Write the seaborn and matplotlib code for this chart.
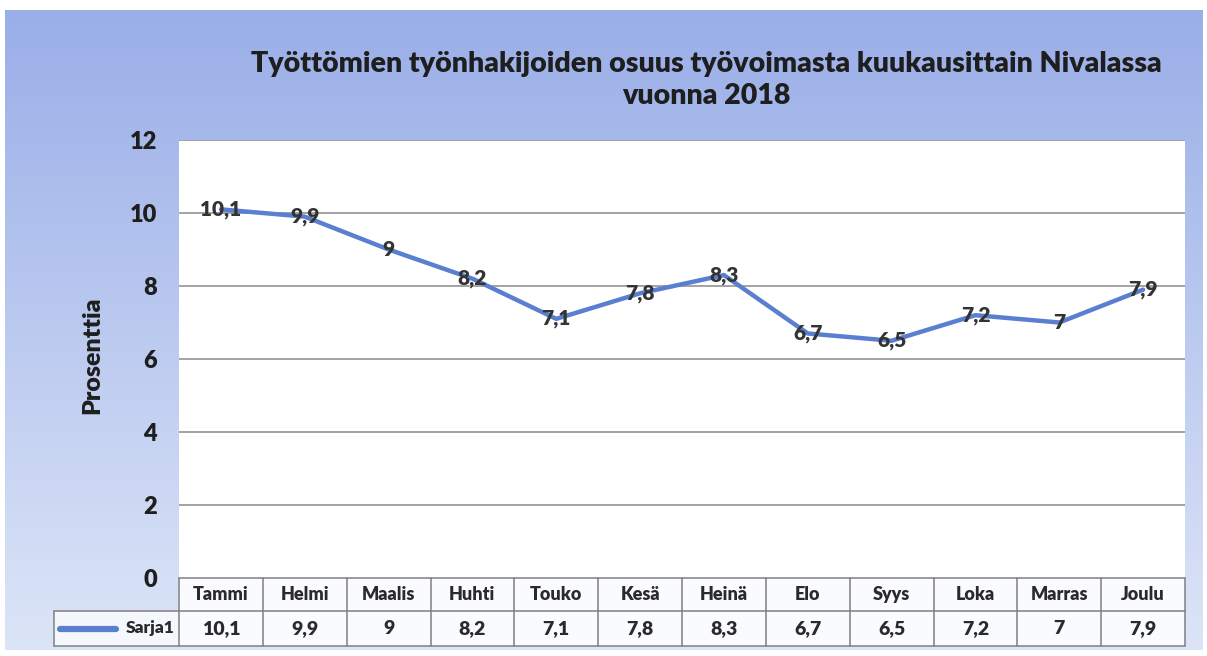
import numpy as np
import pandas as pd
import matplotlib
matplotlib.use("Agg")
import matplotlib.pyplot as plt
import seaborn as sns

months = ['Tammi', 'Helmi', 'Maalis', 'Huhti', 'Touko', 'Kesä',
          'Heinä', 'Elo', 'Syys', 'Loka', 'Marras', 'Joulu']
osuus = [10.1, 9.9, 9.0, 8.2, 7.1, 7.8, 8.3, 6.7, 6.5, 7.2, 7.0, 7.9]
series_name = 'Sarja1'
yticks = [0, 2, 4, 6, 8, 10, 12]

title = 'Työttömien työnhakijoiden osuus työvoimasta kuukausittain Nivalassa\nvuonna 2018'
ylabel = 'Prosenttia'


def fi(v):
    return f"{v:g}".replace('.', ',')


sns.set_theme(style="white")
plt.rcParams['font.family'] = ['Lato', 'DejaVu Sans']

FW = 'heavy'
line_col = '#5b7fd0'
text_col = '#1e1e1e'
grid_col = '#8a8a8a'

df = pd.DataFrame({'kk': months, 'osuus': osuus})

fig = plt.figure(figsize=(12.07, 6.56), dpi=100)
W, H = 1207, 656

# blue gradient frame behind the chart
bg = fig.add_axes([5 / W, 6 / H, 1198 / W, 640 / H], zorder=-5)
top = np.array([0x9a, 0xae, 0xe8]) / 255
bot = np.array([0xdc, 0xe5, 0xf7]) / 255
t = np.linspace(0, 1, 200)[:, None, None]
grad = top * (1 - t) + bot * t
grad = np.repeat(grad, 2, axis=1)
bg.imshow(grad, aspect='auto', extent=[0, 1, 0, 1])
bg.set_axis_off()

ax = fig.add_axes([179 / W, (H - 578) / H, 1006 / W, 438 / H])
ax.set_facecolor('white')

sns.lineplot(data=df, x='kk', y='osuus', ax=ax, color=line_col,
             linewidth=3.2, sort=False, zorder=3)

for i, v in enumerate(osuus):
    ax.text(i, v, fi(v), ha='center', va='center', fontsize=15,
            fontweight=FW, color='#333333', zorder=4)

ax.set_xlim(-0.5, len(months) - 0.5)
ax.set_ylim(0, 12)
ax.set_yticks(yticks)
ax.set_yticklabels([str(y) for y in yticks], fontsize=17, fontweight=FW, color=text_col)
ax.tick_params(axis='y', length=0, pad=16)
ax.tick_params(axis='x', length=0, labelbottom=False)
ax.set_xlabel('')
ax.set_ylabel('')
for s in ax.spines.values():
    s.set_visible(False)
for y in yticks[1:]:
    ax.axhline(y, color=grid_col, linewidth=1.1, zorder=1)

# data table below the plot area (axes coordinates)
n = len(months)
h1 = -33 / 438
h2 = -68 / 438
xl = -125 / 1006
tc = '#808080'
kw = dict(transform=ax.transAxes, clip_on=False, color=tc, linewidth=1.1)
ax.add_patch(plt.Rectangle((xl, h2), -xl, h1 - h2, transform=ax.transAxes,
                           clip_on=False, facecolor='#f4f7fc', edgecolor='none'))
ax.add_patch(plt.Rectangle((0, h2), 1, -h2, transform=ax.transAxes,
                           clip_on=False, facecolor='#fafbfe', edgecolor='none'))
ax.plot([0, 1], [0, 0], **kw)
ax.plot([xl, 1], [h1, h1], **kw)
ax.plot([xl, 1], [h2, h2], **kw)
ax.plot([xl, xl], [h1, h2], **kw)
for k in range(n + 1):
    ax.plot([k / n, k / n], [0, h2], **kw)
for k, (m, v) in enumerate(zip(months, osuus)):
    xc = (k + 0.5) / n
    ax.text(xc, h1 / 2, m, transform=ax.transAxes, ha='center', va='center',
            fontsize=13, fontweight=FW, color='#2a2a2a')
    ax.text(xc, (h1 + h2) / 2, fi(v), transform=ax.transAxes, ha='center', va='center',
            fontsize=14, fontweight=FW, color='#2a2a2a')
ax.plot([xl + 6 / 1006, xl + 62 / 1006], [(h1 + h2) / 2] * 2, transform=ax.transAxes,
        clip_on=False, color=line_col, linewidth=4.5, solid_capstyle='round')
ax.text(-4 / 1006, (h1 + h2) / 2, series_name, transform=ax.transAxes, ha='right',
        va='center', fontsize=12.5, fontweight=FW, color='#2a2a2a')

fig.text(92 / W, 1 - 355 / H, ylabel, rotation=90, ha='center', va='center',
         fontsize=18, fontweight=FW, color=text_col)
fig.text(706 / W, 1 - 80 / H, title, ha='center', va='center', fontsize=20.5,
         fontweight=FW, color=text_col, linespacing=1.3)

fig.savefig('out.png', dpi=100)
